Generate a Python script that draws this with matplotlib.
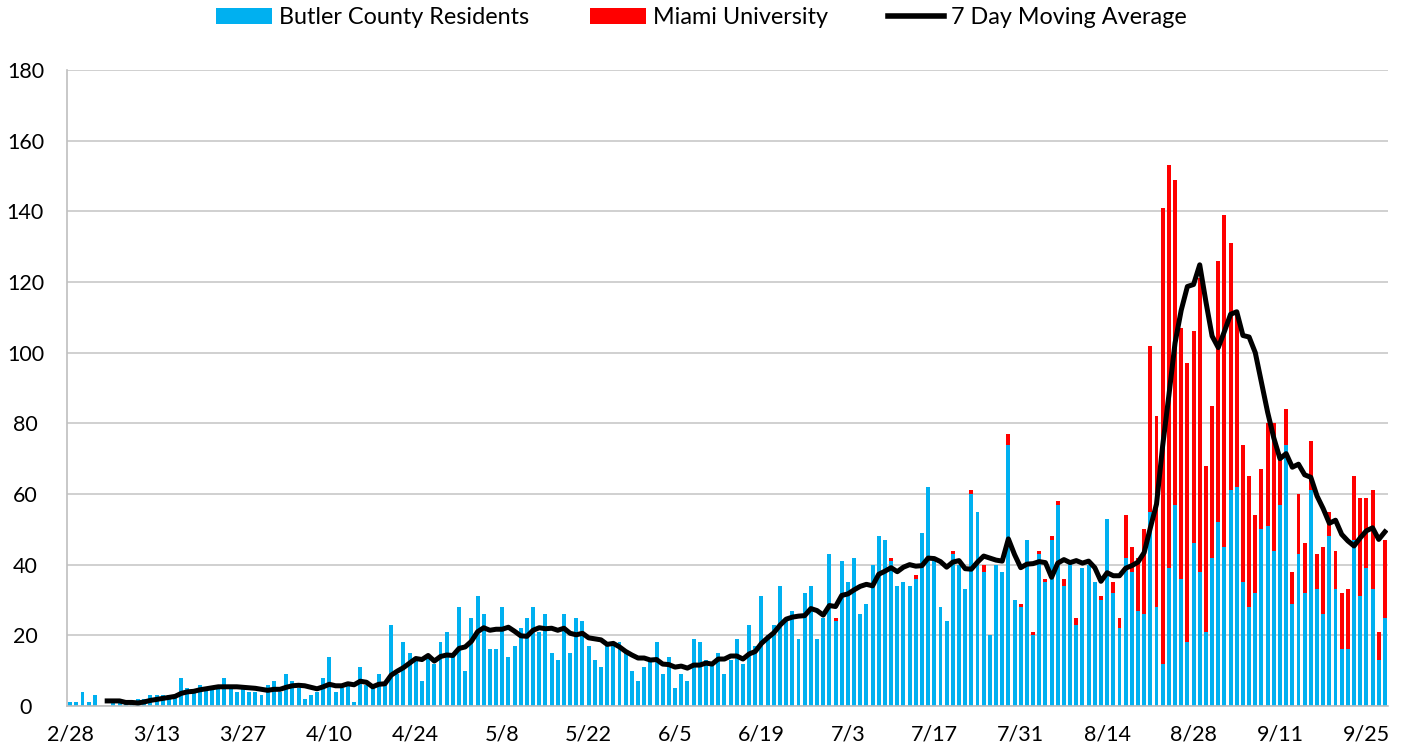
import matplotlib
matplotlib.use("Agg")
import matplotlib.pyplot as plt
import numpy as np
import pandas as pd
from matplotlib.patches import Patch
from matplotlib.lines import Line2D

plt.rcParams['font.family'] = ['Lato', 'DejaVu Sans']

# daily cases, 2/28 .. 9/28 (one entry per day)
butlerResidents = [
    1, 1, 4, 1, 3, 0, 0, 1, 1, 1, 1, 2, 2, 3, 3, 3, 3, 3, 8, 5,
    4, 6, 5, 5, 5, 8, 5, 4, 5, 4, 4, 3, 6, 7, 4, 9, 7, 5, 2, 3,
    4, 8, 14, 4, 5, 6, 1, 11, 6, 5, 9, 6, 23, 9, 18, 15, 14, 7, 14, 12,
    18, 21, 14, 28, 10, 25, 31, 26, 16, 16, 28, 14, 17, 22, 25, 28, 21, 26, 15, 13,
    26, 15, 25, 24, 17, 13, 11, 17, 17, 18, 15, 10, 7, 11, 13, 18, 9, 14, 5, 9,
    7, 19, 18, 13, 12, 15, 9, 13, 19, 12, 23, 17, 31, 20, 23, 34, 24, 27, 19, 32,
    34, 19, 25, 43, 24, 41, 35, 42, 26, 29, 40, 48, 47, 41, 34, 35, 34, 36, 49, 62,
    41, 28, 24, 43, 40, 33, 60, 55, 38, 20, 40, 38, 74, 30, 28, 47, 20, 43, 35, 47,
    57, 34, 41, 23, 39, 40, 35, 30, 53, 32, 22, 42, 38, 27, 26, 55, 28, 12, 39, 57,
    36, 18, 46, 38, 21, 42, 52, 45, 61, 62, 35, 28, 32, 50, 51, 44, 57, 74, 29, 43,
    32, 61, 33, 26, 48, 33, 16, 16, 47, 31, 39, 33, 13, 25,
]
miamiUniversity = [
    0, 0, 0, 0, 0, 0, 0, 0, 0, 0, 0, 0, 0, 0, 0, 0, 0, 0, 0, 0,
    0, 0, 0, 0, 0, 0, 0, 0, 0, 0, 0, 0, 0, 0, 0, 0, 0, 0, 0, 0,
    0, 0, 0, 0, 0, 0, 0, 0, 0, 0, 0, 0, 0, 0, 0, 0, 0, 0, 0, 0,
    0, 0, 0, 0, 0, 0, 0, 0, 0, 0, 0, 0, 0, 0, 0, 0, 0, 0, 0, 0,
    0, 0, 0, 0, 0, 0, 0, 0, 0, 0, 0, 0, 0, 0, 0, 0, 0, 0, 0, 0,
    0, 0, 0, 0, 0, 0, 0, 0, 0, 0, 0, 0, 0, 0, 0, 0, 0, 0, 0, 0,
    0, 0, 0, 0, 1, 0, 0, 0, 0, 0, 0, 0, 0, 1, 0, 0, 0, 1, 0, 0,
    0, 0, 0, 1, 0, 0, 1, 0, 2, 0, 0, 0, 3, 0, 1, 0, 1, 1, 1, 1,
    1, 2, 0, 2, 0, 0, 0, 1, 0, 3, 3, 12, 7, 15, 24, 47, 54, 129, 114, 92,
    71, 79, 60, 83, 47, 43, 74, 94, 70, 49, 39, 37, 22, 17, 29, 36, 13, 10, 9, 17,
    14, 14, 10, 19, 7, 11, 16, 17, 18, 28, 20, 28, 8, 22,
]
tickLabels = ['2/28', '3/13', '3/27', '4/10', '4/24', '5/8', '5/22', '6/5',
              '6/19', '7/3', '7/17', '7/31', '8/14', '8/28', '9/11', '9/25']

butler = np.array(butlerResidents)
miami = np.array(miamiUniversity)
total = pd.Series(butler + miami)
movingAverage = total.rolling(7).mean()
days = np.arange(len(butler))

blue = '#00B0F0'
red = '#FF0000'

fig = plt.figure(figsize=(14.03, 7.5), dpi=100)
ax = fig.add_axes([0.0478, 0.0587, 0.9415, 0.848])

ax.bar(days, butler, width=0.64, color=blue, zorder=2)
ax.bar(days, miami, width=0.64, bottom=butler, color=red, zorder=2)
ax.plot(days, movingAverage, color='black', linewidth=3.6, zorder=3,
        solid_joinstyle='round')

ax.set_xlim(-0.5, len(butler) - 0.5)
ax.set_ylim(0, 180)
ax.set_yticks(np.arange(0, 181, 20))
ax.set_xticks(np.arange(0, len(butler), 14)[:len(tickLabels)])
ax.set_xticklabels(tickLabels)
ax.tick_params(axis='both', labelsize=15.5, length=0, colors='black')
ax.tick_params(axis='x', pad=13)
ax.tick_params(axis='y', pad=30)
for lbl in ax.get_yticklabels():
    lbl.set_horizontalalignment('center')

ax.grid(axis='y', color='#d0d0d0', linewidth=1.4, zorder=0)
ax.set_axisbelow(True)
for side in ['top', 'right']:
    ax.spines[side].set_visible(False)
ax.spines['left'].set_color('#bfbfbf')
ax.spines['left'].set_linewidth(1.2)
ax.spines['bottom'].set_color('#bfbfbf')
ax.spines['bottom'].set_linewidth(1.2)

handles = [Patch(facecolor=blue, label='Butler County Residents'),
           Patch(facecolor=red, label='Miami University'),
           Line2D([0], [0], color='black', linewidth=4, label='7 Day Moving Average')]
fig.legend(handles=handles, loc='upper center', bbox_to_anchor=(0.5, 1.018), ncol=3,
           frameon=False, fontsize=16.8, handlelength=2.4, handleheight=0.7,
           columnspacing=2.6, handletextpad=0.3)

fig.savefig('out.png', dpi=100)
